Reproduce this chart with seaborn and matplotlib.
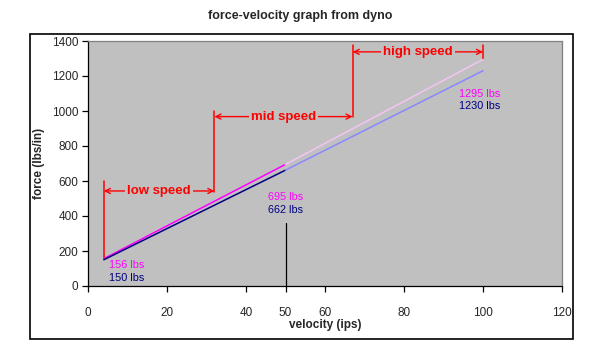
import matplotlib
matplotlib.use("Agg")
import matplotlib.pyplot as plt
import seaborn as sns
import pandas as pd
from matplotlib.patches import Rectangle

# data
vel_low = [4, 50]
vel_high = [50, 100]
force_a_low = [156, 695]
force_a_high = [695, 1295]
force_b_low = [150, 662]
force_b_high = [662, 1230]
x_ticks = [0, 20, 40, 50, 60, 80, 100, 120]
y_ticks = [0, 200, 400, 600, 800, 1000, 1200, 1400]

sns.set_style("white")
plt.rcParams['font.family'] = ['Liberation Sans', 'DejaVu Sans']

fig = plt.figure(figsize=(6, 3.57), dpi=100)
fig.patch.set_facecolor('white')
fig.patches.append(Rectangle((30/600, 1-339/357), 543/600, 305/357, transform=fig.transFigure,
                             fill=False, edgecolor='black', linewidth=1.2))
ax = fig.add_axes([88/600, 1-286/357, 474/600, 245/357])
ax.set_facecolor('#C0C0C0')

segs = [
    (vel_low, force_a_low, '#FF00FF'),
    (vel_low, force_b_low, '#000080'),
    (vel_high, force_a_high, '#F4C4F4'),
    (vel_high, force_b_high, '#8888FF'),
]
for xs, ys, c in segs:
    df = pd.DataFrame({'v': xs, 'f': ys})
    sns.lineplot(data=df, x='v', y='f', color=c, lw=1.1, ax=ax, zorder=4)

# vertical marker at 50
ax.plot([50, 50], [0, 360], color='black', lw=0.9, zorder=3)

red = '#FF0000'
# boundaries
ax.plot([4, 4], [160, 600], color=red, lw=1.1, zorder=3)
ax.plot([32, 32], [540, 1000], color=red, lw=1.1, zorder=3)
ax.plot([67, 67], [965, 1380], color=red, lw=1.1, zorder=3)
ax.plot([100, 100], [1300, 1380], color=red, lw=1.1, zorder=3)

def span(x0, x1, y, label):
    ax.annotate('', xy=(x0, y), xytext=(x1, y),
                arrowprops=dict(arrowstyle='<->', color=red, lw=1.0,
                                shrinkA=0, shrinkB=0, mutation_scale=9), zorder=3)
    ax.text((x0 + x1) / 2, y, label, color=red, fontsize=9.5, fontweight='bold',
            ha='center', va='center', zorder=5,
            bbox=dict(facecolor='#C0C0C0', edgecolor='none', pad=1.5))

span(4, 32, 543, 'low speed')
span(32, 67, 968, 'mid speed')
span(67, 100, 1338, 'high speed')

fs = 7.8
ax.text(5.3, 118, '156 lbs', color='#FF00FF', fontsize=fs, va='center', ha='left')
ax.text(5.3, 45, '150 lbs', color='#000080', fontsize=fs, va='center', ha='left')
ax.text(45.5, 510, '695 lbs', color='#FF00FF', fontsize=fs, va='center', ha='left')
ax.text(45.5, 437, '662 lbs', color='#000080', fontsize=fs, va='center', ha='left')
ax.text(94, 1097, '1295 lbs', color='#FF00FF', fontsize=fs, va='center', ha='left')
ax.text(94, 1028, '1230 lbs', color='#000080', fontsize=fs, va='center', ha='left')

ax.set_xlim(0, 120)
ax.set_ylim(0, 1400)
ax.set_xticks(x_ticks)
ax.set_xticklabels([str(t) for t in x_ticks], fontsize=8.5)
ax.set_yticks(y_ticks)
ax.set_yticklabels([str(t) for t in y_ticks], fontsize=8.5)
ax.xaxis.get_major_ticks()[3].tick1line.set_visible(False)
ax.tick_params(axis='both', direction='out', length=4, width=0.9, color='black')
ax.tick_params(axis='x', pad=11)
ax.tick_params(axis='y', pad=3)
ax.tick_params(bottom=True, left=True)
ax.set_xlabel('velocity (ips)', fontsize=8.5, fontweight='bold', labelpad=0)
ax.set_ylabel('force (lbs/in)', fontsize=8.5, fontweight='bold', labelpad=5)
for s in ['left', 'bottom']:
    ax.spines[s].set_color('black')
    ax.spines[s].set_linewidth(0.9)
for s in ['top', 'right']:
    ax.spines[s].set_color('#808080')
    ax.spines[s].set_linewidth(0.9)

fig.text(0.5, 1 - 16/357, 'force-velocity graph from dyno', ha='center', va='center',
         fontsize=9, fontweight='bold')

fig.savefig('out.png', dpi=100)
